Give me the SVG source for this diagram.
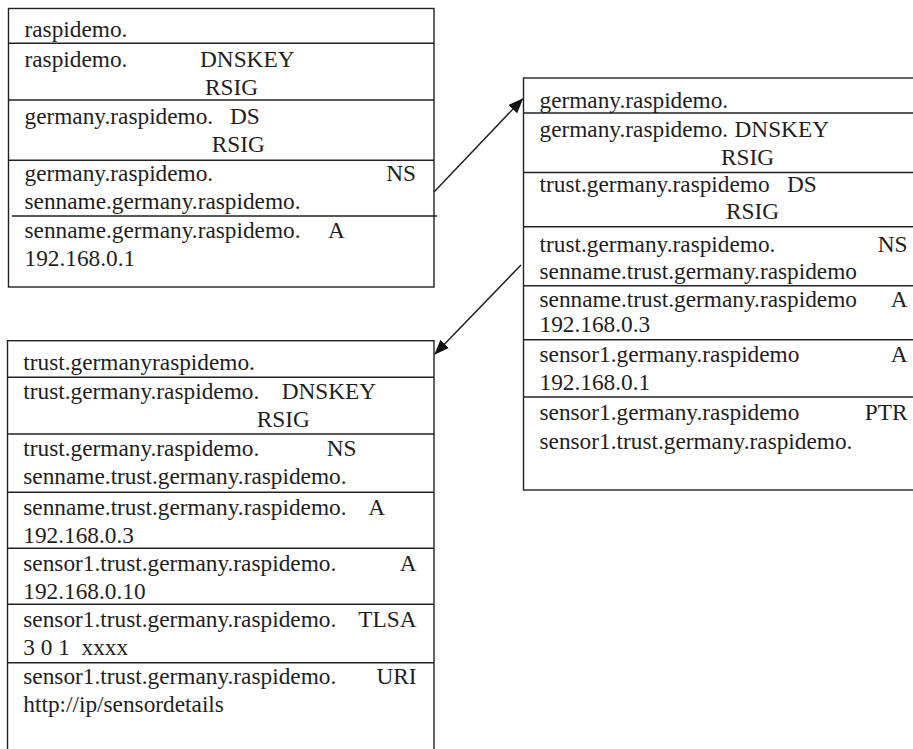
<svg xmlns="http://www.w3.org/2000/svg" width="913" height="749" viewBox="0 0 913 749">
  <defs>
    <style>
      .box { fill: #ffffff; stroke: #222222; stroke-width: 1.4; }
      .div { stroke: #222222; stroke-width: 1.4; fill: none; }
      .t { font-family: "Liberation Serif", "Times New Roman", serif; font-size: 23.3px; fill: #1e1e1e; white-space: pre; }
      .r { text-anchor: end; }
      .conn { stroke: #222222; stroke-width: 1.5; fill: none; marker-end: url(#arrow); }
    </style>
    <marker id="arrow" markerUnits="userSpaceOnUse" markerWidth="16" markerHeight="12" refX="14" refY="6" orient="auto">
      <path d="M0,0 L15,6 L0,12 Z" fill="#111111"/>
    </marker>
  </defs>

  <rect width="913" height="749" fill="#ffffff"/>

  <!-- Zone raspidemo. -->
  <g id="zone-raspidemo">
    <rect class="box" x="8.5" y="8.5" width="425.5" height="278.5"/>
    <line class="div" x1="8.5" y1="43.3" x2="434" y2="43.3"/>
    <line class="div" x1="8.5" y1="100" x2="434" y2="100"/>
    <line class="div" x1="8.5" y1="160.3" x2="434" y2="160.3"/>
    <line class="div" x1="12" y1="216" x2="437" y2="216"/>
    <text class="t" x="24.5" y="37">raspidemo.</text>
    <text class="t" x="24.5" y="66.5">raspidemo.</text>
    <text class="t" x="200" y="66.5">DNSKEY</text>
    <text class="t" x="205" y="95">RSIG</text>
    <text class="t" x="24.5" y="123.5">germany.raspidemo.</text>
    <text class="t" x="230" y="123.5">DS</text>
    <text class="t" x="211.7" y="152">RSIG</text>
    <text class="t" x="24.5" y="181">germany.raspidemo.</text>
    <text class="t r" x="416" y="181">NS</text>
    <text class="t" x="24.5" y="209">senname.germany.raspidemo.</text>
    <text class="t" x="24.5" y="237.5">senname.germany.raspidemo.</text>
    <text class="t" x="328" y="237.5">A</text>
    <text class="t" x="24.5" y="266">192.168.0.1</text>
  </g>

  <!-- Zone germany.raspidemo. -->
  <g id="zone-germany">
    <rect class="box" x="523.5" y="78" width="400" height="412"/>
    <line class="div" x1="523.5" y1="113" x2="913" y2="113"/>
    <line class="div" x1="523.5" y1="172.5" x2="913" y2="172.5"/>
    <line class="div" x1="523.5" y1="226.8" x2="913" y2="226.8"/>
    <line class="div" x1="523.5" y1="285.7" x2="913" y2="285.7"/>
    <line class="div" x1="523.5" y1="339.7" x2="913" y2="339.7"/>
    <line class="div" x1="523.5" y1="397" x2="913" y2="397"/>
    <text class="t" x="539.5" y="108">germany.raspidemo.</text>
    <text class="t" x="539.5" y="136.5">germany.raspidemo.</text>
    <text class="t" x="734.5" y="136.5">DNSKEY</text>
    <text class="t" x="721" y="164.5">RSIG</text>
    <text class="t" x="539.5" y="191.5">trust.germany.raspidemo</text>
    <text class="t" x="787" y="191.5">DS</text>
    <text class="t" x="726" y="219">RSIG</text>
    <text class="t" x="539.5" y="251.5">trust.germany.raspidemo.</text>
    <text class="t r" x="907.5" y="251.5">NS</text>
    <text class="t" x="539.5" y="279">senname.trust.germany.raspidemo</text>
    <text class="t" x="539.5" y="306.5">senname.trust.germany.raspidemo</text>
    <text class="t r" x="907.5" y="306.5">A</text>
    <text class="t" x="539.5" y="332">192.168.0.3</text>
    <text class="t" x="539.5" y="361.5">sensor1.germany.raspidemo</text>
    <text class="t r" x="907.5" y="361.5">A</text>
    <text class="t" x="539.5" y="390">192.168.0.1</text>
    <text class="t" x="539.5" y="420">sensor1.germany.raspidemo</text>
    <text class="t r" x="907.5" y="420">PTR</text>
    <text class="t" x="539.5" y="448.5">sensor1.trust.germany.raspidemo.</text>
  </g>

  <!-- Zone trust.germany.raspidemo. -->
  <g id="zone-trust">
    <rect class="box" x="7.5" y="340.7" width="426.5" height="420"/>
    <line class="div" x1="7.5" y1="377.3" x2="434" y2="377.3"/>
    <line class="div" x1="7.5" y1="434" x2="434" y2="434"/>
    <line class="div" x1="7.5" y1="492.3" x2="434" y2="492.3"/>
    <line class="div" x1="7.5" y1="548.3" x2="434" y2="548.3"/>
    <line class="div" x1="7.5" y1="604.3" x2="434" y2="604.3"/>
    <line class="div" x1="7.5" y1="662.7" x2="434" y2="662.7"/>
    <text class="t" x="23.3" y="370">trust.germanyraspidemo.</text>
    <text class="t" x="23.3" y="398.5">trust.germany.raspidemo.</text>
    <text class="t" x="281.7" y="398.5">DNSKEY</text>
    <text class="t" x="256.7" y="427">RSIG</text>
    <text class="t" x="23.3" y="456">trust.germany.raspidemo.</text>
    <text class="t" x="326.7" y="456">NS</text>
    <text class="t" x="23.3" y="483.5">senname.trust.germany.raspidemo.</text>
    <text class="t" x="23.3" y="514.5">senname.trust.germany.raspidemo.</text>
    <text class="t" x="368.3" y="514.5">A</text>
    <text class="t" x="23.3" y="543">192.168.0.3</text>
    <text class="t" x="23.3" y="570.5">sensor1.trust.germany.raspidemo.</text>
    <text class="t r" x="416.5" y="570.5">A</text>
    <text class="t" x="23.3" y="598.5">192.168.0.10</text>
    <text class="t" x="23.3" y="627">sensor1.trust.germany.raspidemo.</text>
    <text class="t r" x="416.5" y="627">TLSA</text>
    <text class="t" x="23.3" y="655">3 0 1  xxxx</text>
    <text class="t" x="23.3" y="683.5">sensor1.trust.germany.raspidemo.</text>
    <text class="t r" x="416.5" y="683.5">URI</text>
    <text class="t" x="23.3" y="712">http://ip/sensordetails</text>
  </g>

  <!-- Delegation arrows -->
  <g id="connectors">
    <line class="conn" x1="434" y1="192" x2="522.5" y2="99"/>
    <line class="conn" x1="521" y1="265" x2="435" y2="354"/>
  </g>
</svg>
